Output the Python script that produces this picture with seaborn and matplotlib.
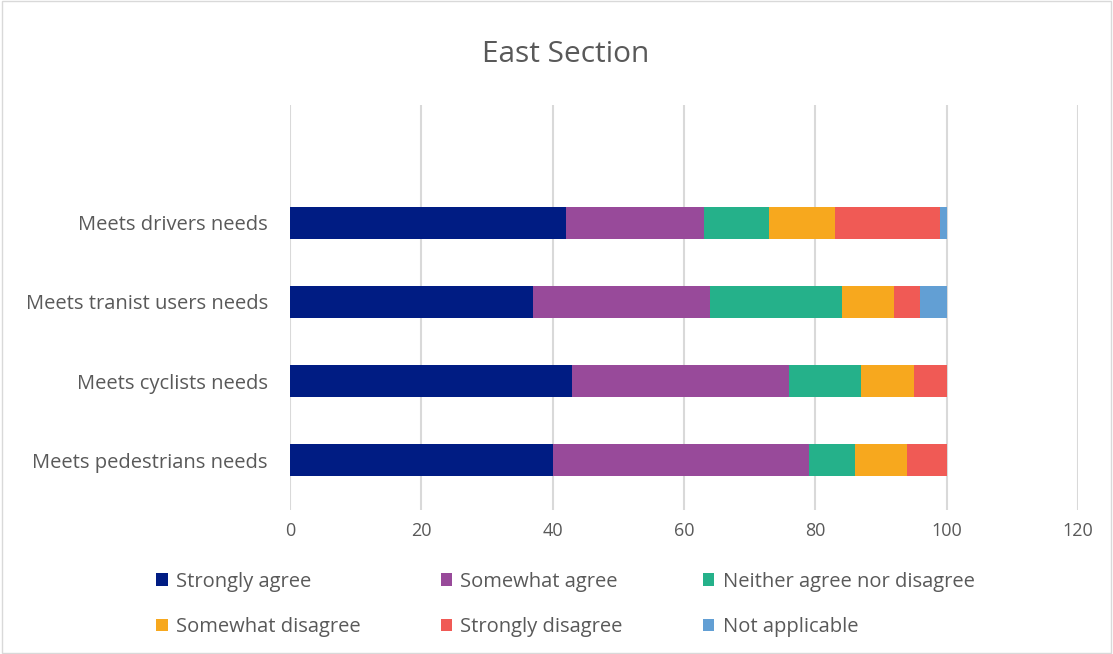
import matplotlib
matplotlib.use('Agg')
import matplotlib.pyplot as plt
import seaborn as sns
import pandas as pd
import numpy as np
from matplotlib.patches import Rectangle, Patch

categories = ['Meets drivers needs', 'Meets tranist users needs',
              'Meets cyclists needs', 'Meets pedestrians needs']
responses = ['Strongly agree', 'Somewhat agree', 'Neither agree nor disagree',
             'Somewhat disagree', 'Strongly disagree', 'Not applicable']
strongly_agree = [42, 37, 43, 40]
somewhat_agree = [21, 27, 33, 39]
neither = [10, 20, 11, 7]
somewhat_disagree = [10, 8, 8, 8]
strongly_disagree = [16, 4, 5, 6]
not_applicable = [1, 4, 0, 0]
colors = ['#001C83', '#984A9A', '#25B18A', '#F7A81E', '#F05A55', '#629FD4']

sns.set_style('white')
plt.rcParams['font.family'] = ['Open Sans', 'DejaVu Sans']
TXT = '#595959'

df = pd.DataFrame({'category': categories})
series = [strongly_agree, somewhat_agree, neither,
          somewhat_disagree, strongly_disagree, not_applicable]
cum = np.cumsum(np.array(series), axis=0)

fig = plt.figure(figsize=(11.13, 6.54), dpi=100)
ax = fig.add_axes([0.2606, 0.2202, 0.7080, 0.6192])

# stacked bars: draw cumulative totals from the outermost segment inward
for i in range(len(responses) - 1, -1, -1):
    df['value'] = cum[i]
    sns.barplot(data=df, x='value', y='category', orient='h', color=colors[i],
                width=0.4, saturation=1, ax=ax, linewidth=0, zorder=3 + (5 - i) * 0.01)

ax.set_xlim(0, 120)
ax.set_xticks(range(0, 121, 20))
ax.set_ylim(3.63, -1.49)
ax.grid(axis='x', color='#D9D9D9', linewidth=1.5, zorder=0)
ax.set_axisbelow(True)
for s in ax.spines.values():
    s.set_visible(False)
ax.set_xlabel('')
ax.set_ylabel('')
ax.tick_params(axis='both', length=0, labelcolor=TXT)
ax.tick_params(axis='x', pad=9, labelsize=13)
ax.tick_params(axis='y', pad=16, labelsize=14.5)

fig.text(0.508, 1 - 55 / 654, 'East Section', ha='center', va='center',
         fontsize=21.5, color=TXT)

handles = [Patch(facecolor=c, edgecolor='none') for c in colors]
order = [0, 3, 1, 4, 2, 5]
fig.legend([handles[k] for k in order], [responses[k] for k in order],
           ncol=3, loc='center', bbox_to_anchor=(0.508, 0.076), frameon=False,
           fontsize=14.5, labelcolor=TXT, handlelength=0.56, handleheight=0.56,
           handletextpad=0.4, columnspacing=4.0, labelspacing=1.25)

fig.patches.append(Rectangle((0.0015, 0.002), 0.997, 0.996, transform=fig.transFigure,
                             fill=False, edgecolor='#D9D9D9', linewidth=1))

plt.savefig('out.png', dpi=100)
plt.close()
